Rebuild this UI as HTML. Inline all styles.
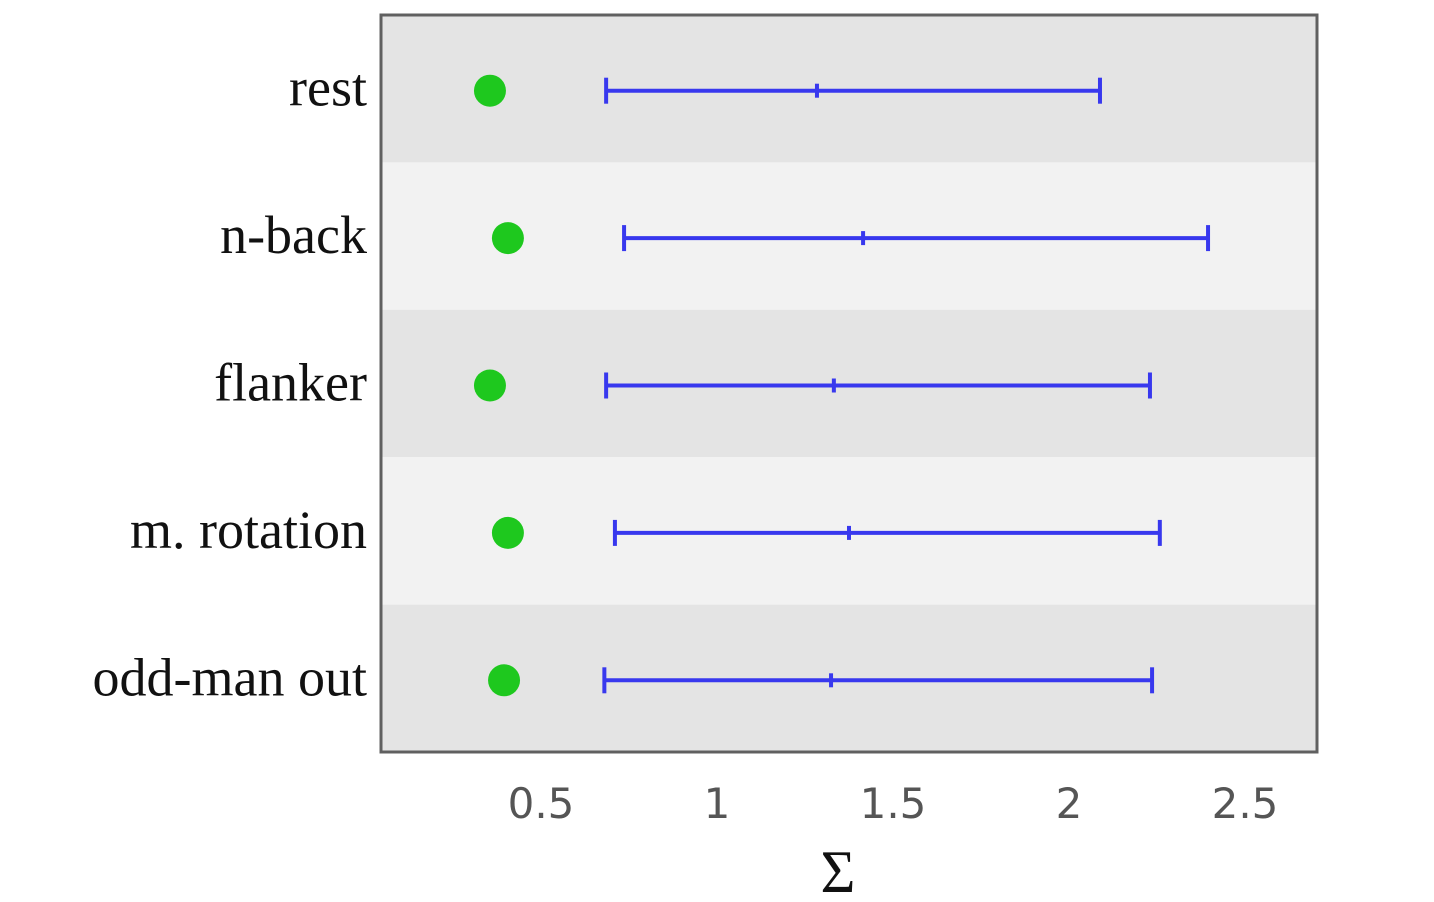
<!DOCTYPE html>
<html><head><meta charset="utf-8"><style>
html,body{margin:0;padding:0;background:#fff;}
svg{display:block;}
</style></head><body>
<svg id="chart" width="1434" height="902" xmlns="http://www.w3.org/2000/svg">
<g id="bands"></g><g id="marks"></g><g id="labels"></g>
<rect x="381" y="15" width="936" height="737" fill="none" stroke="#606060" stroke-width="3"/>
<text x="838" y="892" font-family="Liberation Serif, serif" font-size="60" text-anchor="middle" fill="#111">Σ</text>
</svg>
<script>
const categories = ["rest","n-back","flanker","m. rotation","odd-man out"];
const pointValues = [0.355,0.406,0.355,0.406,0.395];
const lowValues = [0.685,0.736,0.685,0.71,0.68];
const midValues = [1.284,1.415,1.332,1.375,1.324];
const highValues = [2.088,2.395,2.23,2.258,2.236];
const xTicks = [0.5,1,1.5,2,2.5];
const xTickLabels = ["0.5","1","1.5","2","2.5"];

const NS="http://www.w3.org/2000/svg";
const xScale = v => 541 + (v-0.5)*352;
const plotTop=15, bandH=737/categories.length;
const yc = i => plotTop + bandH*(i+0.5);
function mk(tag, attrs, parent){const e=document.createElementNS(NS,tag);for(const k in attrs)e.setAttribute(k,attrs[k]);parent.appendChild(e);return e;}
const bandsG=document.getElementById('bands'), marksG=document.getElementById('marks'), labelsG=document.getElementById('labels');
categories.forEach((c,i)=>{
  const b=mk('rect',{x:381,y:plotTop+bandH*i,width:936,height:bandH,fill:i%2?'#f2f2f2':'#e4e4e4'},bandsG);
  
  
  const t=mk('text',{x:367,y:yc(i)+17,'font-family':'Liberation Serif, serif','font-size':54,'text-anchor':'end',fill:'#111'},labelsG);
  t.textContent=c;
  
  
  const y=yc(i)+2;
  const ln=mk('line',{x1:xScale(lowValues[i]),x2:xScale(highValues[i]),y1:y,y2:y,stroke:'#3838ee','stroke-width':4},marksG);
  
  
  [lowValues[i],highValues[i]].forEach(v=>{
    const cap=mk('line',{x1:xScale(v),x2:xScale(v),y1:y-13,y2:y+13,stroke:'#3838ee','stroke-width':4},marksG);
    
    
  });
  const m=mk('line',{x1:xScale(midValues[i]),x2:xScale(midValues[i]),y1:y-7,y2:y+7,stroke:'#3838ee','stroke-width':4},marksG);
  
  
  const d=mk('circle',{cx:xScale(pointValues[i]),cy:y,r:16,fill:'#1ec81e'},marksG);
  
  
});
xTicks.forEach((v,i)=>{
  const t=mk('text',{x:xScale(v),y:818,'font-family':'DejaVu Sans, sans-serif','font-size':42,'text-anchor':'middle',fill:'#555'},labelsG);
  t.textContent=xTickLabels[i];
  
  
});
</script>
</body></html>
